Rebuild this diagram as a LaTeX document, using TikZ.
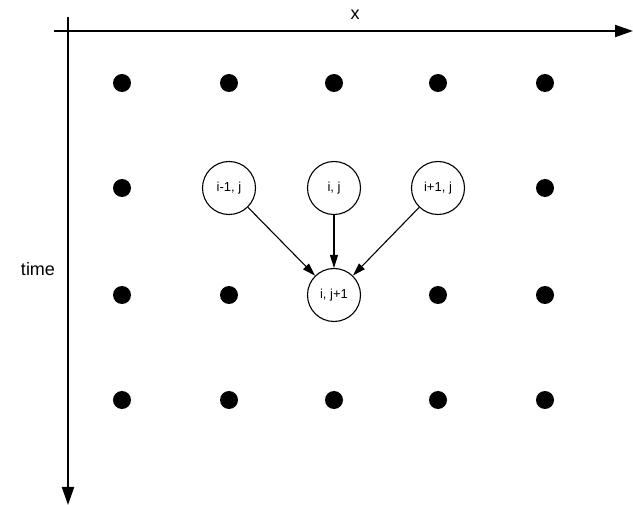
\documentclass[tikz,border=0pt]{standalone}
\usepackage{fontspec}
\setmainfont{Liberation Sans}
\usetikzlibrary{arrows.meta}
\begin{document}
\begin{tikzpicture}[x=1pt,y=-1pt,
  dot/.style={circle,fill=black,inner sep=0pt,minimum size=18pt},
  cell/.style={circle,draw,line width=1.1pt,inner sep=0pt,minimum size=53pt,font=\fontsize{13}{15}\selectfont},
  axis/.style={line width=2pt,-{Triangle[length=18pt,width=12pt]}},
  link/.style={line width=1.1pt,-{Triangle[length=13pt,width=8pt]}}]
\useasboundingbox (0,0) rectangle (633,505);
% axes
\coordinate (xs) at (54,31);
\coordinate (xe) at (633,31);
\coordinate (ys) at (68,17);
\coordinate (ye) at (68,505);
\draw[axis] (xs) -- (xe);
\draw[axis] (ys) -- (ye);
\node[font=\fontsize{18}{20}\selectfont] (xl) at (355,15) {x};
\node[font=\fontsize{18}{20}\selectfont] (tl) at (38,269) {time};
% dots
\foreach \c/\xx in {1/122,2/229,3/334,4/438,5/545}{
  \foreach \r/\yy in {1/83,2/188,3/295,4/400}{
    \node[dot] (d\c\r) at (\xx,\yy) {};
  }
}
% cells on top
\node[cell,fill=white] (a) at (229,188) {i-1, j};
\node[cell,fill=white] (b) at (334,188) {i, j};
\node[cell,fill=white] (c) at (438,188) {i+1, j};
\node[cell,fill=white] (n) at (334,295) {i, j+1};
\draw[link] (a) -- (n);
\draw[link] (b) -- (n);
\draw[link] (c) -- (n);
\end{tikzpicture}
\end{document}
